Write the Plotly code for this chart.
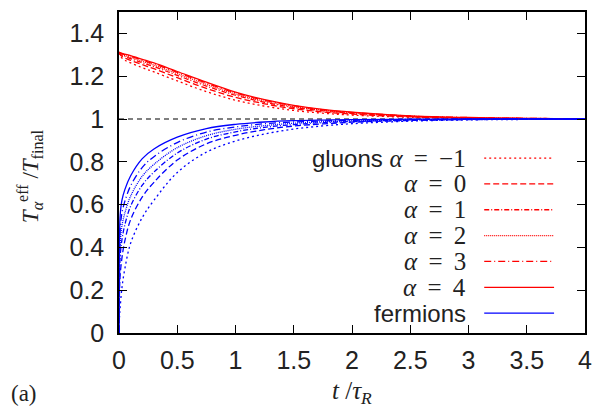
import plotly.graph_objects as go

# time grid t / tau_R
t_vals = [0, 0.005, 0.01, 0.025, 0.05, 0.1, 0.2, 0.3, 0.5, 0.75, 1.0, 1.25, 1.5, 1.75, 2.0, 2.5, 3.0, 3.5, 4.0]

# gluons (red)
glu_am1 = [1.310, 1.303, 1.296, 1.285, 1.275, 1.262, 1.240, 1.220, 1.178, 1.128, 1.088, 1.060, 1.040, 1.027, 1.018, 1.008, 1.003, 1.001, 1.000]
glu_a0 = [1.311, 1.306, 1.301, 1.293, 1.285, 1.274, 1.254, 1.235, 1.193, 1.143, 1.101, 1.071, 1.048, 1.033, 1.023, 1.010, 1.004, 1.002, 1.000]
glu_a1 = [1.311, 1.308, 1.304, 1.298, 1.292, 1.282, 1.263, 1.245, 1.204, 1.154, 1.111, 1.078, 1.054, 1.038, 1.026, 1.012, 1.005, 1.002, 1.001]
glu_a2 = [1.312, 1.309, 1.307, 1.302, 1.297, 1.288, 1.270, 1.252, 1.212, 1.162, 1.117, 1.083, 1.058, 1.041, 1.029, 1.013, 1.006, 1.003, 1.001]
glu_a3 = [1.312, 1.310, 1.309, 1.305, 1.300, 1.293, 1.275, 1.258, 1.218, 1.168, 1.122, 1.087, 1.062, 1.043, 1.031, 1.014, 1.007, 1.003, 1.001]
glu_a4 = [1.312, 1.311, 1.310, 1.307, 1.303, 1.296, 1.279, 1.262, 1.222, 1.172, 1.126, 1.090, 1.064, 1.045, 1.032, 1.015, 1.007, 1.003, 1.001]

# fermions (blue)
fer_am1 = [0, 0.08, 0.12, 0.21, 0.30, 0.42, 0.54, 0.62, 0.75, 0.845, 0.897, 0.930, 0.953, 0.968, 0.978, 0.990, 0.996, 0.998, 0.999]
fer_a0 = [0, 0.21, 0.27, 0.35, 0.43, 0.53, 0.636, 0.704, 0.808, 0.884, 0.924, 0.950, 0.967, 0.977, 0.985, 0.993, 0.997, 0.999, 0.999]
fer_a1 = [0, 0.28, 0.36, 0.435, 0.505, 0.593, 0.691, 0.752, 0.841, 0.906, 0.940, 0.961, 0.974, 0.983, 0.988, 0.995, 0.998, 0.999, 1.0]
fer_a2 = [0, 0.34, 0.42, 0.50, 0.56, 0.64, 0.733, 0.788, 0.866, 0.922, 0.952, 0.969, 0.980, 0.987, 0.991, 0.996, 0.999, 0.999, 1.0]
fer_a3 = [0, 0.39, 0.485, 0.56, 0.615, 0.688, 0.774, 0.824, 0.890, 0.939, 0.963, 0.978, 0.986, 0.991, 0.994, 0.998, 0.999, 1.0, 1.0]
fer_a4 = [0, 0.45, 0.55, 0.62, 0.67, 0.735, 0.815, 0.860, 0.915, 0.955, 0.975, 0.986, 0.992, 0.995, 0.997, 0.999, 1.0, 1.0, 1.0]

ref_x = [0, 4]
ref_y = [1, 1]

MATH = "<span style='font-family:Liberation Serif;font-size:25px'><i>α</i>\u2009 = \u2009{}</span>"
legend_labels = ["gluons " + MATH.format("−1"),
                 MATH.format("0"),
                 MATH.format("1"),
                 MATH.format("2"),
                 MATH.format("3"),
                 MATH.format("4"),
                 "fermions"]

x_ticks = [0, 0.5, 1, 1.5, 2, 2.5, 3, 3.5, 4]
x_ticktext = ["0", "0.5", "1", "1.5", "2", "2.5", "3", "3.5", "4"]
y_ticks = [0, 0.2, 0.4, 0.6, 0.8, 1.0, 1.2, 1.4]
y_ticktext = ["0", "0.2", "0.4", "0.6", "0.8", "1", "1.2", "1.4"]

dashes = ["2px,3px", "6px,3px", "5px,2px,1px,2px", "1px,1px", "7px,3px,1px,3px", "solid"]
RED = "#ff0000"
BLUE = "#0000ff"

fig = go.Figure()

fig.add_trace(go.Scatter(x=ref_x, y=ref_y, mode="lines",
                         line=dict(color="black", width=1.2, dash="5px,4px"), showlegend=False))

glu = [glu_am1, glu_a0, glu_a1, glu_a2, glu_a3, glu_a4]
fer = [fer_am1, fer_a0, fer_a1, fer_a2, fer_a3, fer_a4]
for ys, d in zip(glu, dashes):
    fig.add_trace(go.Scatter(x=t_vals, y=ys, mode="lines", line_shape="spline",
                             line=dict(color=RED, width=1.3, dash=d), showlegend=False))
for ys, d in zip(fer, dashes):
    fig.add_trace(go.Scatter(x=t_vals, y=ys, mode="lines", line_shape="spline",
                             line=dict(color=BLUE, width=1.3, dash=d), showlegend=False))

# manual legend (text right, sample on the right side)
W, H = 602, 411
L, R, T, B = 119, 586, 10, 333
pw, ph = R - L, B - T
row_py = [157, 183, 209, 235, 261, 287, 313]
leg_dash = dashes + ["solid"]
leg_col = [RED] * 6 + [BLUE]
annotations = []
shapes = []
for lab, py, d, c in zip(legend_labels, row_py, leg_dash, leg_col):
    yp = (B - py) / ph
    annotations.append(dict(x=(469 - L) / pw, y=yp, xref="paper", yref="paper",
                            xanchor="right", yanchor="middle", showarrow=False,
                            text=lab, font=dict(family="Liberation Sans", size=24, color="#222222")))
    shapes.append(dict(type="line", xref="paper", yref="paper",
                       x0=(485 - L) / pw, x1=(555 - L) / pw, y0=yp, y1=yp,
                       line=dict(color=c, width=1.3, dash=d)))

# axis titles
annotations.append(dict(x=(30 - L) / pw, y=(B - 175) / ph, xref="paper", yref="paper",
                        textangle=-90, showarrow=False, xanchor="center", yanchor="middle",
                        text="<i>T</i><sub><i>α</i></sub><sup>eff</sup> /<i>T</i><sub>final</sub>",
                        font=dict(family="Liberation Serif", size=23, color="#222222")))
annotations.append(dict(x=(353 - L) / pw, y=(B - 393) / ph, xref="paper", yref="paper",
                        showarrow=False, xanchor="center", yanchor="middle",
                        text="<i>t</i> /<i>τ</i><sub><i>R</i></sub>",
                        font=dict(family="Liberation Serif", size=25, color="#222222")))
annotations.append(dict(x=(24 - L) / pw, y=(B - 394) / ph, xref="paper", yref="paper",
                        showarrow=False, xanchor="center", yanchor="middle",
                        text="(a)",
                        font=dict(family="Liberation Serif", size=23, color="#222222")))

axis_common = dict(showgrid=False, zeroline=False, showline=True, linecolor="black",
                   linewidth=1.5, ticks="inside", ticklen=8, tickwidth=1.2, tickcolor="black",
                   mirror="allticks",
                   tickfont=dict(family="Liberation Sans", size=25, color="#222222"))

fig.update_layout(
    width=W, height=H,
    margin=dict(l=L, r=W - R, t=T, b=H - B),
    paper_bgcolor="white", plot_bgcolor="white",
    xaxis=dict(range=[0, 4], tickvals=x_ticks, ticktext=x_ticktext, ticklabelstandoff=4, **axis_common),
    yaxis=dict(range=[0, 1.5], tickvals=y_ticks, ticktext=y_ticktext, ticklabelstandoff=8, **axis_common),
    annotations=annotations, shapes=shapes, showlegend=False,
)

fig.write_html("out.html")
